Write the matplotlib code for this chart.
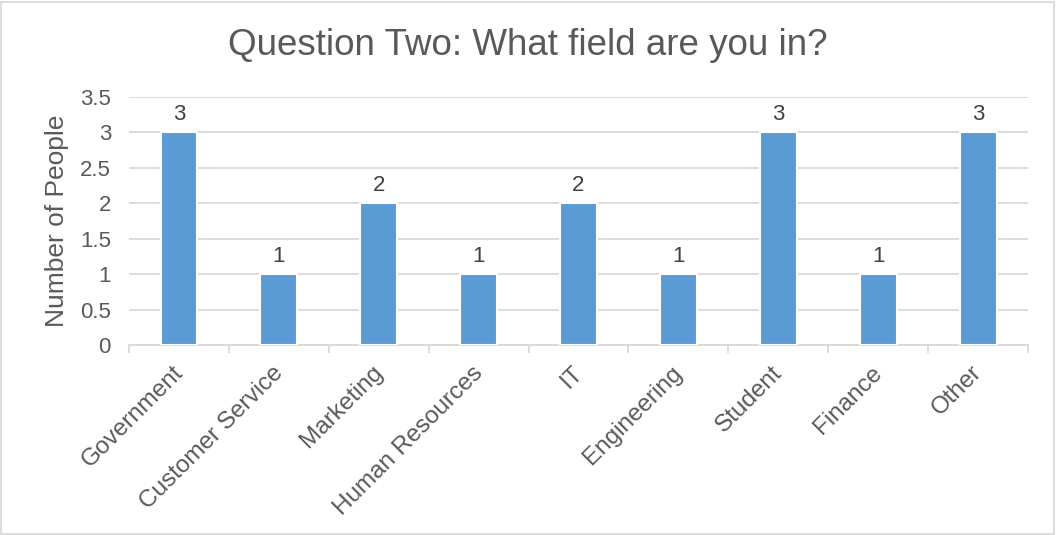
import matplotlib.pyplot as plt
from matplotlib.patches import Rectangle
from matplotlib.transforms import ScaledTranslation

categories = ['Government', 'Customer Service', 'Marketing', 'Human Resources',
              'IT', 'Engineering', 'Student', 'Finance', 'Other']
counts = [3, 1, 2, 1, 2, 1, 3, 1, 3]
yticks = [0, 0.5, 1, 1.5, 2, 2.5, 3, 3.5]
ytick_labels = ['0', '0.5', '1', '1.5', '2', '2.5', '3', '3.5']

text_color = '#595959'
grid_color = '#D9D9D9'
bar_color = '#5B9BD5'

plt.rcParams['font.family'] = ['Liberation Sans', 'DejaVu Sans']

fig = plt.figure(figsize=(10.56, 5.35), dpi=100)
ax = fig.add_axes([0.1222, 0.3551, 0.8513, 0.4636])

x = range(len(categories))
bars = ax.bar(x, counts, width=0.37, color=bar_color, edgecolor='white',
              linewidth=1.5, zorder=3)
for b, v in zip(bars, counts):
    ax.text(b.get_x() + b.get_width() / 2, v + 0.1, str(v), ha='center',
            va='bottom', fontsize=16, color='#404040')

ax.set_xlim(-0.5, len(categories) - 0.5)
ax.set_ylim(0, 3.5)
ax.set_yticks(yticks)
ax.set_yticklabels(ytick_labels)
ax.yaxis.grid(True, color=grid_color, linewidth=1.3, zorder=0)
ax.set_axisbelow(True)
ax.tick_params(axis='y', length=0, labelsize=16, labelcolor=text_color, pad=13)

ax.set_xticks(x)
ax.set_xticklabels(categories, rotation=45, ha='right', rotation_mode='anchor',
                   fontsize=17.5, color=text_color)
ax.tick_params(axis='x', length=0, pad=12)
shift = ScaledTranslation(-7 / 100, 0, fig.dpi_scale_trans)
for lbl in ax.get_xticklabels():
    lbl.set_transform(lbl.get_transform() + shift)
ax.set_xticks([i - 0.5 for i in range(len(categories) + 1)], minor=True)
ax.tick_params(axis='x', which='minor', length=6, color=grid_color, width=1.3)

for s in ['top', 'right', 'left']:
    ax.spines[s].set_visible(False)
ax.spines['bottom'].set_color(grid_color)
ax.spines['bottom'].set_linewidth(1.3)

ax.set_ylabel('Number of People', fontsize=19, color=text_color, labelpad=8)
fig.text(0.5, 0.915, 'Question Two: What field are you in?', ha='center',
         va='center', fontsize=26.5, color=text_color)

fig.patches.append(Rectangle((0.001, 0.002), 0.997, 0.995, transform=fig.transFigure,
                             fill=False, edgecolor=grid_color, linewidth=1.3))

fig.savefig('out.png', dpi=100, facecolor='white')
